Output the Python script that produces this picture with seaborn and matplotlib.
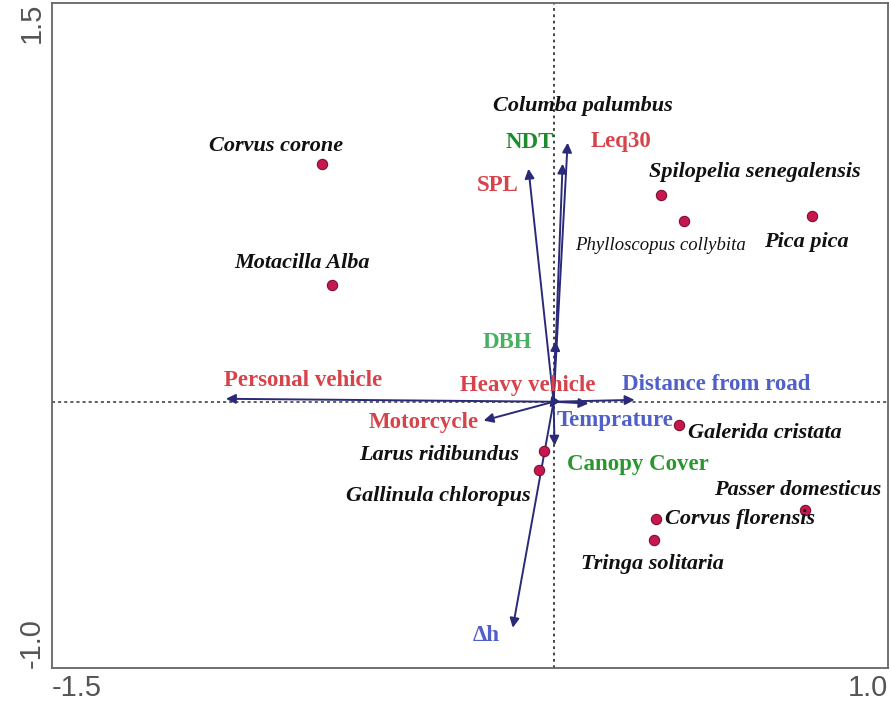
import matplotlib
matplotlib.use("Agg")
import matplotlib.pyplot as plt
import seaborn as sns
import pandas as pd

# species scores (axis 1, axis 2)
species = ["Corvus corone", "Motacilla Alba", "Spilopelia senegalensis",
           "Phylloscopus collybita", "Pica pica", "Galerida cristata",
           "Larus ridibundus", "Gallinula chloropus", "Corvus florensis",
           "Tringa solitaria", "Passer domesticus"]
sp_x = [-0.693, -0.663, 0.322, 0.391, 0.773, 0.376, -0.030, -0.045, 0.307, 0.299, 0.752]
sp_y = [0.895, 0.438, 0.779, 0.678, 0.697, -0.086, -0.184, -0.255, -0.442, -0.521, -0.408]

# environmental variables (arrow tips)
variables = ["Leq30", "NDT", "SPL", "DBH", "Personal vehicle", "Heavy vehicle",
             "Distance from road", "Motorcycle", "Temprature", "Canopy Cover", "Δh"]
var_x = [0.042, 0.027, -0.075, 0.006, -0.979, -0.012, 0.242, -0.209, 0.104, 0.003, -0.122]
var_y = [0.974, 0.895, 0.876, 0.228, 0.011, -0.022, 0.007, -0.071, -0.007, -0.165, -0.850]

# label placement (layout only)
sp_label_pos = {
    "Corvus corone": (-0.830, 0.963),
    "Motacilla Alba": (-0.752, 0.521),
    "Columba palumbus": (0.087, 1.112),
    "Spilopelia senegalensis": (0.600, 0.865),
    "Phylloscopus collybita": (0.319, 0.588),
    "Pica pica": (0.755, 0.599),
    "Galerida cristata": (0.630, -0.116),
    "Larus ridibundus": (-0.343, -0.202),
    "Gallinula chloropus": (-0.343, -0.356),
    "Passer domesticus": (0.728, -0.333),
    "Corvus florensis": (0.558, -0.442),
    "Tringa solitaria": (0.296, -0.610),
}
var_label_pos = {
    "Leq30": (0.203, 0.978),
    "NDT": (-0.072, 0.974),
    "SPL": (-0.167, 0.813),
    "DBH": (-0.137, 0.221),
    "Personal vehicle": (-0.749, 0.079),
    "Heavy vehicle": (-0.078, 0.060),
    "Distance from road": (0.487, 0.064),
    "Motorcycle": (-0.388, -0.079),
    "Temprature": (0.185, -0.071),
    "Canopy Cover": (0.251, -0.236),
    "Δh": (-0.200, -0.880),
}
red, blue = "#d6434a", "#5060c8"
var_colors = {
    "Leq30": red, "NDT": "#1e8c2a", "SPL": red, "DBH": "#48b060",
    "Personal vehicle": red, "Heavy vehicle": red, "Distance from road": blue,
    "Motorcycle": red, "Temprature": blue, "Canopy Cover": "#2a962e", "Δh": blue,
}

sns.set_style("white")
plt.rcParams['font.family'] = ['Liberation Serif', 'DejaVu Serif']

fig = plt.figure(figsize=(8.9, 7.08), dpi=100)
ax = fig.add_axes([0.058, 0.057, 0.940, 0.939])

ax.axhline(0, color="#333333", ls=(0, (2, 2)), lw=1.1, zorder=1)
ax.axvline(0, color="#333333", ls=(0, (1.5, 2)), lw=1.3, zorder=1)

for name, vx, vy in zip(variables, var_x, var_y):
    ax.annotate("", xy=(vx, vy), xytext=(0, 0),
                arrowprops=dict(arrowstyle="-|>", color="#2a2a78", lw=1.4,
                                mutation_scale=14, shrinkA=0, shrinkB=0),
                zorder=3)
    lx, ly = var_label_pos[name]
    ax.text(lx, ly, name, color=var_colors[name], fontsize=16.5, fontweight="bold",
            ha="center", va="center", zorder=4)

df = pd.DataFrame({"species": species, "x": sp_x, "y": sp_y})
sns.scatterplot(data=df, x="x", y="y", ax=ax, color="#c8174e", s=55,
                edgecolor="#7a1030", linewidth=0.8, zorder=5, legend=False)

for name, (lx, ly) in sp_label_pos.items():
    w = "normal" if name == "Phylloscopus collybita" else "bold"
    fs = 13.5 if name == "Phylloscopus collybita" else 16
    ax.text(lx, ly, name, color="#111111", fontsize=fs, fontstyle="italic",
            fontweight=w, ha="center", va="center", zorder=6)

ax.set_xlim(-1.5, 1.0)
ax.set_ylim(-1.0, 1.5)
ax.set_xlabel("")
ax.set_ylabel("")
ax.set_xticks([-1.5, -1.0, 0.5, 1.0])
ax.set_xticklabels(["-1.5", "", "", "1.0"])
ax.set_yticks([-1.0, 1.0, 1.5])
ax.set_yticklabels(["-1.0", "", "1.5"])
ax.tick_params(direction="inout", length=5, width=1, color="#555555",
               labelsize=21, labelcolor="#555555", pad=2)
for lab in ax.get_xticklabels():
    lab.set_family(["Liberation Sans", "DejaVu Sans"])
for lab in ax.get_yticklabels():
    lab.set_family(["Liberation Sans", "DejaVu Sans"])
    lab.set_rotation(90)
xl = ax.get_xticklabels()
xl[0].set_ha("left")
xl[-1].set_ha("right")
yl = ax.get_yticklabels()
yl[0].set_va("bottom")
yl[-1].set_va("top")
for sp in ax.spines.values():
    sp.set_color("#666666")
    sp.set_linewidth(1.3)

fig.savefig("out.png", dpi=100)
